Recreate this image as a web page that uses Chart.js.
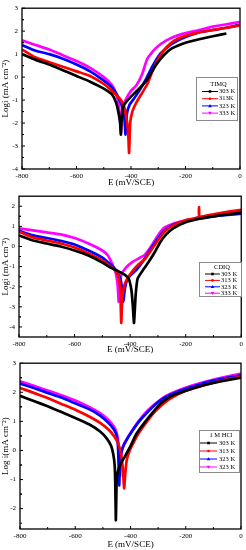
<!DOCTYPE html>
<html>
<head>
<meta charset="utf-8">
<script src="https://cdn.jsdelivr.net/npm/chart.js@4.4.0/dist/chart.umd.min.js"></script>
<style>
body { margin: 0; background: #fff; }
#wrap { position: relative; width: 246px; height: 550px; }
.panel { position: absolute; left: 0; width: 246px; }
</style>
</head>
<body>
<div id="wrap">
    <div class="panel" style="top:0;height:188px"><canvas id="timq-chart"></canvas></div>
    <div class="panel" style="top:188px;height:167px"><canvas id="cdiq-chart"></canvas></div>
    <div class="panel" style="top:355px;height:195px"><canvas id="hcl-chart"></canvas></div>
</div>
<script>
// ---- TIMQ ----
var timqE303 = [-800, -750, -700, -650, -600, -550, -500, -470, -455, -445, -440, -437, -433, -425, -400, -370, -340, -310, -280, -250, -200, -150, -100, -50];
var timqI303 = [1.0, 0.75, 0.55, 0.3, 0.05, -0.2, -0.5, -0.75, -1.1, -1.6, -2.0, -2.5, -1.6, -1.2, -0.85, -0.5, -0.1, 0.5, 0.95, 1.25, 1.5, 1.65, 1.78, 1.9];
var timqE313 = [-800, -750, -700, -650, -600, -550, -500, -470, -440, -425, -415, -410, -407, -403, -395, -380, -360, -340, -320, -300, -270, -240, -200, -150, -100, -50, 0];
var timqI313 = [1.2, 0.85, 0.65, 0.45, 0.25, 0.05, -0.3, -0.6, -0.95, -1.3, -1.9, -2.5, -3.3, -2.0, -1.5, -1.1, -0.7, -0.3, 0.3, 0.8, 1.3, 1.6, 1.8, 1.95, 2.05, 2.15, 2.25];
var timqE323 = [-800, -750, -700, -650, -600, -550, -500, -470, -450, -435, -425, -420, -415, -405, -390, -370, -350, -320, -290, -250, -200, -150, -100, -50, 0];
var timqI323 = [1.4, 1.15, 1.0, 0.8, 0.55, 0.25, -0.15, -0.45, -0.8, -1.2, -1.7, -2.5, -1.6, -1.2, -0.95, -0.6, -0.2, 0.5, 1.05, 1.45, 1.75, 1.95, 2.05, 2.15, 2.28];
var timqE333 = [-800, -750, -700, -650, -600, -550, -500, -470, -455, -445, -440, -437, -432, -420, -400, -380, -360, -340, -310, -270, -220, -150, -100, -50, 0];
var timqI333 = [1.6, 1.4, 1.2, 0.95, 0.7, 0.4, 0.0, -0.35, -0.7, -1.2, -1.8, -2.4, -1.5, -1.0, -0.6, -0.35, 0.1, 0.8, 1.25, 1.6, 1.85, 2.05, 2.2, 2.3, 2.4];

// ---- CDIQ ----
var cdiqE303 = [-800, -750, -700, -650, -600, -550, -500, -470, -440, -420, -405, -395, -390, -386, -380, -373, -350, -330, -310, -290, -270, -245, -200, -150, -100, -50, 0];
var cdiqI303 = [0.55, 0.3, 0.15, 0.0, -0.2, -0.45, -0.8, -1.05, -1.25, -1.4, -1.6, -2.2, -3.0, -3.8, -2.4, -1.6, -1.1, -0.7, -0.25, 0.25, 0.6, 0.9, 1.2, 1.38, 1.5, 1.6, 1.68];
var cdiqE313 = [-800, -750, -700, -650, -600, -550, -500, -470, -450, -440, -435, -432, -428, -420, -410, -390, -370, -345, -320, -300, -275, -245, -200, -153, -152, -151, -100, -50, 0];
var cdiqI313 = [0.75, 0.45, 0.3, 0.15, -0.05, -0.35, -0.7, -1.0, -1.25, -1.6, -2.3, -3.8, -2.5, -1.9, -1.6, -1.2, -0.9, -0.6, -0.1, 0.3, 0.75, 1.05, 1.3, 1.47, 1.95, 1.48, 1.6, 1.72, 1.82];
var cdiqE323 = [-800, -750, -700, -650, -600, -550, -500, -470, -450, -435, -428, -424, -420, -412, -400, -380, -360, -340, -320, -300, -280, -250, -200, -150, -100, -50, 0];
var cdiqI323 = [0.78, 0.55, 0.42, 0.28, 0.1, -0.2, -0.55, -0.9, -1.2, -1.6, -2.2, -2.75, -2.2, -1.7, -1.45, -1.2, -0.85, -0.45, 0.0, 0.4, 0.75, 1.05, 1.28, 1.4, 1.5, 1.57, 1.63];
var cdiqE333 = [-800, -750, -700, -650, -600, -550, -500, -480, -465, -452, -445, -441, -437, -430, -415, -395, -370, -350, -335, -320, -300, -280, -240, -200, -150, -100, -50, 0];
var cdiqI333 = [0.9, 0.8, 0.7, 0.6, 0.42, 0.15, -0.2, -0.45, -0.85, -1.3, -1.9, -2.75, -1.8, -1.35, -1.05, -0.8, -0.6, -0.45, -0.2, 0.1, 0.55, 0.9, 1.15, 1.3, 1.45, 1.58, 1.7, 1.8];

// ---- 1 M HCl ----
var hclE303 = [-800, -750, -700, -650, -600, -550, -510, -485, -470, -462, -457, -455, -453, -450, -445, -435, -420, -400, -380, -350, -320, -290, -250, -200, -150, -100, -50, 0];
var hclI303 = [1.88, 1.7, 1.52, 1.32, 1.12, 0.9, 0.65, 0.4, 0.15, -0.15, -0.55, -1.2, -2.4, -1.0, -0.7, -0.45, -0.2, 0.15, 0.55, 0.95, 1.3, 1.62, 1.88, 2.05, 2.2, 2.32, 2.42, 2.5];
var hclE313 = [-800, -750, -700, -650, -600, -550, -510, -480, -460, -445, -435, -428, -423, -419, -414, -405, -390, -370, -340, -310, -280, -250, -200, -150, -100, -50, 0];
var hclI313 = [2.15, 1.98, 1.8, 1.6, 1.4, 1.17, 0.95, 0.72, 0.5, 0.25, -0.1, -0.6, -1.3, -0.8, -0.35, -0.05, 0.25, 0.6, 1.0, 1.35, 1.62, 1.82, 2.05, 2.2, 2.33, 2.45, 2.53];
var hclE323 = [-800, -750, -700, -650, -600, -550, -510, -480, -460, -450, -445, -441, -437, -430, -415, -395, -370, -340, -310, -280, -240, -200, -150, -100, -50, 0];
var hclI323 = [2.3, 2.15, 1.98, 1.82, 1.62, 1.42, 1.2, 0.95, 0.72, 0.5, 0.1, -1.2, -0.3, 0.05, 0.35, 0.65, 0.98, 1.3, 1.58, 1.8, 1.98, 2.12, 2.27, 2.4, 2.5, 2.58];
var hclE333 = [-800, -750, -700, -650, -600, -550, -510, -480, -460, -450, -443, -438, -433, -425, -410, -390, -365, -335, -305, -270, -230, -180, -130, -80, -30, 0];
var hclI333 = [2.38, 2.22, 2.06, 1.9, 1.72, 1.5, 1.28, 1.05, 0.82, 0.6, 0.2, -0.87, -0.1, 0.2, 0.45, 0.75, 1.08, 1.4, 1.65, 1.88, 2.05, 2.22, 2.36, 2.48, 2.58, 2.64];

var seriesColors = ['#000000', '#ff0000', '#0000ff', '#ff00ff'];
var seriesMarkers = ['rect', 'circle', 'triangle', 'triangleDown'];
var serif = '"Liberation Serif", "Times New Roman", serif';

function pts(xs, ys) {
    return xs.map(function (x, i) { return { x: x, y: ys[i] }; });
}

// frame box + inward major/minor ticks, like the Origin plot
var frameTicks = {
    id: 'frameTicks',
    afterDatasetsDraw: function (chart, args, opt) {
        var ctx = chart.ctx, a = chart.chartArea;
        var x = chart.scales.x, y = chart.scales.y;
        ctx.save();
        ctx.strokeStyle = '#000';
        ctx.lineWidth = 1.3;
        ctx.strokeRect(a.left, a.top, a.right - a.left, a.bottom - a.top);
        ctx.lineWidth = 1;
        ctx.beginPath();
        x.ticks.forEach(function (t) {
            var px = x.getPixelForValue(t.value);
            ctx.moveTo(px, a.bottom); ctx.lineTo(px, a.bottom - 3);
            var m = t.value + opt.xMinor;
            if (m < x.max) {
                var mx = x.getPixelForValue(m);
                ctx.moveTo(mx, a.bottom); ctx.lineTo(mx, a.bottom - 2);
            }
        });
        y.ticks.forEach(function (t) {
            var py = y.getPixelForValue(t.value);
            ctx.moveTo(a.left, py); ctx.lineTo(a.left + 3, py);
            [t.value - opt.yMinor, t.value + opt.yMinor].forEach(function (m) {
                if (m > y.min && m < y.max) {
                    var my = y.getPixelForValue(m);
                    ctx.moveTo(a.left, my); ctx.lineTo(a.left + 2, my);
                }
            });
        });
        ctx.stroke();
        ctx.restore();
    }
};

function drawMarker(ctx, style, cx, cy, r) {
    ctx.beginPath();
    if (style === 'rect') {
        ctx.rect(cx - r, cy - r, 2 * r, 2 * r);
    } else if (style === 'circle') {
        ctx.arc(cx, cy, r, 0, Math.PI * 2);
    } else if (style === 'triangle') {
        ctx.moveTo(cx, cy - r - 0.5); ctx.lineTo(cx + r + 0.5, cy + r); ctx.lineTo(cx - r - 0.5, cy + r);
    } else {
        ctx.moveTo(cx, cy + r + 0.5); ctx.lineTo(cx + r + 0.5, cy - r); ctx.lineTo(cx - r - 0.5, cy - r);
    }
    ctx.closePath();
    ctx.fill();
}

// boxed legend with a title, sitting inside the plot
var boxLegend = {
    id: 'boxLegend',
    afterDraw: function (chart, args, o) {
        var ctx = chart.ctx;
        ctx.save();
        ctx.fillStyle = '#fff';
        ctx.fillRect(o.x, o.y, o.w, o.h);
        ctx.strokeStyle = '#8a8a8a';
        ctx.lineWidth = 1;
        ctx.strokeRect(o.x + 0.5, o.y + 0.5, o.w, o.h);
        ctx.fillStyle = '#000';
        ctx.font = '6.5px ' + serif;
        ctx.textBaseline = 'middle';
        ctx.textAlign = 'center';
        ctx.fillText(o.title, o.x + o.w / 2 + 2, o.titleY);
        ctx.textAlign = 'left';
        chart.data.datasets.forEach(function (ds, i) {
            var ry = o.rowY + i * o.gap;
            ctx.strokeStyle = ds.borderColor;
            ctx.beginPath();
            ctx.moveTo(o.x0, ry); ctx.lineTo(o.x1, ry);
            ctx.stroke();
            ctx.fillStyle = ds.borderColor;
            drawMarker(ctx, ds.marker, (o.x0 + o.x1) / 2, ry, 1.3);
            ctx.fillStyle = '#000';
            ctx.fillText(ds.label, o.textX, ry);
        });
        ctx.restore();
    }
};

function makePanel(id, p) {
    var datasets = p.series.map(function (s, i) {
        return {
            label: p.labels[i],
            data: pts(s[0], s[1]),
            borderColor: seriesColors[i],
            backgroundColor: seriesColors[i],
            marker: seriesMarkers[i],
            borderWidth: 2.7,
            pointRadius: 0,
            tension: 0.15
        };
    });
    return new Chart(document.getElementById(id), {
        type: 'line',
        data: { datasets: datasets },
        options: {
            responsive: true,
            maintainAspectRatio: false,
            animation: false,
            layout: { padding: { top: p.padTop, right: p.padRight, left: 0, bottom: 0 } },
            plugins: {
                legend: { display: false },
                tooltip: { enabled: false },
                frameTicks: { xMinor: 100, yMinor: 0.5 },
                boxLegend: p.legend
            },
            scales: {
                x: {
                    type: 'linear', min: -800, max: 0,
                    ticks: { stepSize: 200, maxRotation: 0, padding: 3, color: '#000', font: { family: serif, size: 7 } },
                    grid: { display: false, drawTicks: false },
                    border: { display: false },
                    title: { display: true, text: 'E (mV/SCE)', color: '#000', padding: 0, font: { family: serif, size: 9 } },
                    afterFit: function (s) { s.height = p.xH; }
                },
                y: {
                    min: p.yMin, max: p.yMax,
                    ticks: { stepSize: 1, padding: 4, color: '#000', font: { family: serif, size: 7 } },
                    afterBuildTicks: function (s) {
                        // whole-number ticks only, whatever the range ends are
                        var list = [];
                        for (var v = Math.ceil(s.min); v <= Math.floor(s.max); v++) list.push({ value: v });
                        s.ticks = list;
                    },
                    grid: { display: false, drawTicks: false },
                    border: { display: false },
                    title: { display: true, text: p.yTitle, color: '#000', padding: { top: 0, bottom: 0 }, font: { family: serif, size: 9 } },
                    afterFit: function (s) { s.width = p.yW; }
                }
            }
        },
        plugins: [frameTicks, boxLegend]
    });
}

makePanel('timq-chart', {
    series: [[timqE303, timqI303], [timqE313, timqI313], [timqE323, timqI323], [timqE333, timqI333]],
    labels: ['303 K', '313K', '323 K', '333 K'],
    yMin: -4, yMax: 3, yTitle: 'Logi (mA cm\u207B\u00B2)',
    padTop: 5, padRight: 6, yW: 22, xH: 19,
    legend: { title: 'TIMQ', x: 196, y: 77, w: 41, h: 43, titleY: 84, rowY: 91.5, gap: 7.2, x0: 202, x1: 218, textX: 219 }
});

makePanel('cdiq-chart', {
    series: [[cdiqE303, cdiqI303], [cdiqE313, cdiqI313], [cdiqE323, cdiqI323], [cdiqE333, cdiqI333]],
    labels: ['303 K', '313 K', '323 K', '333 K'],
    yMin: -4.5, yMax: 2.5, yTitle: 'Logi (mA cm\u207B\u00B2)',
    padTop: 3, padRight: 4, yW: 19, xH: 18,
    legend: { title: 'CDIQ', x: 199, y: 74, w: 42, h: 34, titleY: 79, rowY: 86, gap: 6.4, x0: 205, x1: 220, textX: 221 }
});

makePanel('hcl-chart', {
    series: [[hclE303, hclI303], [hclE313, hclI313], [hclE323, hclI323], [hclE333, hclI333]],
    labels: ['303 K', '313 K', '323 K', '323 K'],
    yMin: -2.7, yMax: 3, yTitle: 'Log i(mA cm\u207B\u00B2)',
    padTop: 4, padRight: 5, yW: 20, xH: 21,
    legend: { title: '1 M HCl', x: 199, y: 75, w: 40, h: 42, titleY: 80, rowY: 88, gap: 8, x0: 200, x1: 217, textX: 219 }
});
</script>
</body>
</html>
